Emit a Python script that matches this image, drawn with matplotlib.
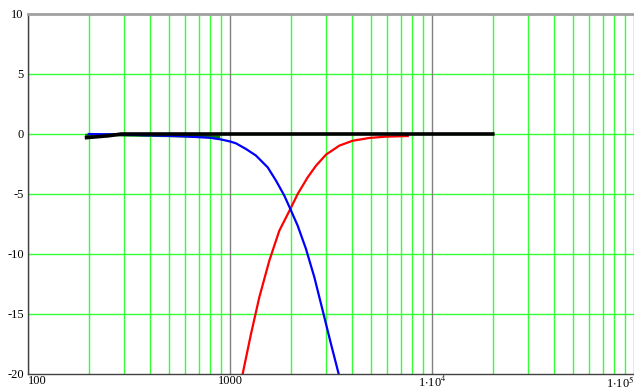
import matplotlib
matplotlib.use("Agg")
import matplotlib.pyplot as plt
from matplotlib.ticker import LogLocator, NullFormatter

# frequency response values (Hz, dB)
low_f = [200, 300, 425, 600, 800, 900, 1000, 1071, 1200, 1345, 1537, 1690, 1858,
         1989, 2163, 2378, 2616, 2877, 3162, 3452, 3600]
low_db = [0.0, -0.05, -0.12, -0.2, -0.32, -0.45, -0.62, -0.78, -1.25, -1.8, -2.78,
          -3.89, -5.14, -6.25, -7.64, -9.58, -11.94, -14.72, -17.5, -20.0, -21.3]

high_f = [1100, 1155, 1270, 1397, 1565, 1754, 1989, 2163, 2424, 2666, 2987, 3477,
          4049, 4895, 5920, 7585]
high_db = [-21.6, -20.0, -16.67, -13.6, -10.56, -8.06, -6.25, -5.0, -3.61, -2.64,
           -1.72, -0.97, -0.56, -0.33, -0.22, -0.17]

mid_f = [195, 250, 300, 500, 700, 880]
mid_db = [-0.1, -0.05, -0.1, -0.15, -0.2, -0.25]

sum_f = [195, 250, 290, 1000, 5000, 20000]
sum_db = [-0.3, -0.15, 0.0, 0.0, 0.0, 0.0]

x_ticks = [100, 1000, 1e4, 1e5]
x_labels = ['100', '1000', r'1$\cdot$10$^{4}$', r'1$\cdot$10$^{5}$']
y_ticks = [-20, -15, -10, -5, 0, 5, 10]

plt.rcParams['font.family'] = ['Liberation Serif', 'DejaVu Serif']
plt.rcParams['mathtext.fontset'] = 'stix'
plt.rcParams['axes.unicode_minus'] = False

fig = plt.figure(figsize=(6.34, 3.90), dpi=100)
ax = fig.add_axes([28 / 634, 16 / 390, 606 / 634, 360 / 390])

ax.set_xscale('log')
ax.set_xlim(100, 1e5)
ax.set_ylim(-20, 10)

# grid: green for minor decades and every 5 dB, gray for decades
ax.xaxis.set_minor_locator(LogLocator(base=10, subs=range(2, 10)))
ax.xaxis.set_minor_formatter(NullFormatter())
ax.grid(True, which='minor', axis='x', color='#33ff33', lw=1)
ax.grid(True, which='major', axis='x', color='#808080', lw=1)
for y in y_ticks[1:-1]:
    ax.axhline(y, color='#33ff33', lw=1, zorder=0.5)

ax.plot(mid_f, mid_db, color='#008000', lw=2)
ax.plot(high_f, high_db, color='red', lw=1.6)
ax.plot(low_f, low_db, color='blue', lw=1.6)
ax.plot(sum_f, sum_db, color='black', lw=2.6)

ax.set_xticks(x_ticks)
ax.set_xticklabels(x_labels)
ax.set_yticks(y_ticks)
ax.tick_params(which='both', length=0, labelsize=9)
ax.tick_params(axis='x', pad=1)
ax.tick_params(axis='y', pad=3)
labels = ax.get_xticklabels()
labels[0].set_horizontalalignment('left')
labels[-1].set_horizontalalignment('right')

for side in ['left', 'bottom']:
    ax.spines[side].set_color('#404040')
    ax.spines[side].set_linewidth(1)
ax.spines['top'].set_color('#a0a0a0')
ax.spines['top'].set_linewidth(2)
ax.spines['right'].set_visible(False)

fig.savefig('out.png', dpi=100)
